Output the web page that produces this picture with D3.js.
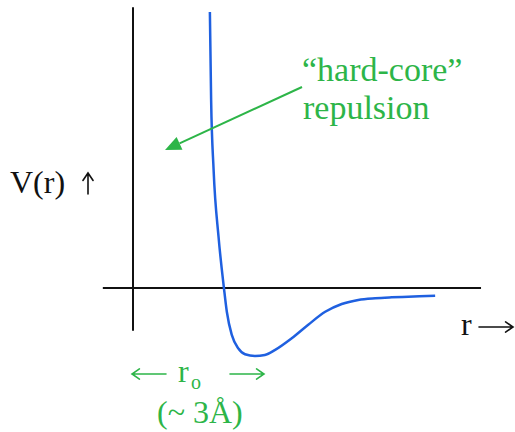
<!DOCTYPE html>
<html>
<head>
<meta charset="utf-8">
<script src="https://d3js.org/d3.v7.min.js"></script>
<style>
  body { margin: 0; background: #fff; }
  text { font-family: "Liberation Serif", "Times New Roman", serif; }
</style>
</head>
<body>
<svg id="chart" width="515" height="432"></svg>
<script>
// potential curve, r in Angstrom, V in units of well depth
const rVals = [1.86, 1.89, 1.95, 2.07, 2.20, 2.27, 2.39, 2.55, 2.71, 2.95, 3.19, 3.44, 3.84, 4.24, 4.65, 5.05, 5.45, 5.86, 6.26, 6.66, 7.31];
const vVals = [4.06, 2.77, 1.74, 0.75, 0, -0.35, -0.69, -0.89, -0.975, -1.0, -0.985, -0.91, -0.74, -0.54, -0.35, -0.235, -0.175, -0.15, -0.137, -0.128, -0.113];

// axis extents (data units)
const rAxisExtent = [-0.73, 8.42];
const vAxisExtent = [-0.63, 4.13];

const annotLines = ["\u201Chard-core\u201D", "repulsion"];
const yLabel = "V(r)";
const xLabel = "r";
const r0Label = "r";
const r0Sub = "o";
const r0Value = "(~ 3\u00C5)";

const green = "#2db548";
const blue = "#1f60e0";
const ink = "#111";

let svg = d3.select("svg#chart");

let xScale = d3.scaleLinear().domain([0, 3]).range([133, 257]);
let yScale = d3.scaleLinear().domain([0, -1]).range([288, 356]);

//axes
svg.append("line")
  .attr("x1", xScale(rAxisExtent[0])).attr("x2", xScale(rAxisExtent[1]))
  .attr("y1", yScale(0)).attr("y2", yScale(0))
  .style("stroke", ink).style("stroke-width", 2);
svg.append("line")
  .attr("x1", xScale(0)).attr("x2", xScale(0))
  .attr("y1", yScale(vAxisExtent[1])).attr("y2", yScale(vAxisExtent[0]))
  .style("stroke", ink).style("stroke-width", 2);

//curve
let pts = rVals.map((r, i) => [r, vVals[i]]);
let line = d3.line()
  .x(d => xScale(d[0]))
  .y(d => yScale(d[1]))
  .curve(d3.curveMonotoneX);
svg.append("path")
  .attr("d", line(pts))
  .style("fill", "none")
  .style("stroke", blue)
  .style("stroke-width", 2.5);

//annotation
svg.append("text").attr("x", 302).attr("y", 81)
  .style("font-size", "34px").style("fill", green).text(annotLines[0]);
svg.append("text").attr("x", 303).attr("y", 119)
  .style("font-size", "34px").style("fill", green).text(annotLines[1]);

//arrow to repulsion region
let ax1 = 302, ay1 = 87, ax2 = 165, ay2 = 150;
let ang = Math.atan2(ay2 - ay1, ax2 - ax1);
let hl = 16, hw = 7;
let bx = ax2 - hl * Math.cos(ang), by = ay2 - hl * Math.sin(ang);
svg.append("line")
  .attr("x1", ax1).attr("y1", ay1).attr("x2", bx).attr("y2", by)
  .style("stroke", green).style("stroke-width", 2);
svg.append("polygon")
  .attr("points", [
    [ax2, ay2],
    [bx + hw * Math.sin(ang), by - hw * Math.cos(ang)],
    [bx - hw * Math.sin(ang), by + hw * Math.cos(ang)]
  ].map(p => p.join(",")).join(" "))
  .style("fill", green);

// thin open arrows like the typeset ones
function textArrow(x1, y1, x2, y2, color) {
  let a = Math.atan2(y2 - y1, x2 - x1);
  let len = 9, spread = 0.6;
  let p1 = [x2 - len * Math.cos(a - spread), y2 - len * Math.sin(a - spread)];
  let p2 = [x2 - len * Math.cos(a + spread), y2 - len * Math.sin(a + spread)];
  svg.append("path")
    .attr("d", "M" + x1 + "," + y1 + "L" + x2 + "," + y2 +
      "M" + p1.join(",") + "L" + x2 + "," + y2 + "L" + p2.join(","))
    .style("fill", "none").style("stroke", color)
    .style("stroke-width", 1.6).style("stroke-linecap", "round");
}

//axis labels
svg.append("text").attr("x", 10).attr("y", 193)
  .style("font-size", "32px").style("fill", ink).text(yLabel);
textArrow(88, 194, 88, 173, ink);
svg.append("text").attr("x", 461).attr("y", 335)
  .style("font-size", "32px").style("fill", ink).text(xLabel);
textArrow(479, 327, 513, 327, ink);

//r0 label
textArrow(166, 374, 132, 374, green);
svg.append("text").attr("x", 178).attr("y", 382)
  .style("font-size", "32px").style("fill", green).text(r0Label);
svg.append("text").attr("x", 191).attr("y", 389)
  .style("font-size", "20px").style("fill", green).text(r0Sub);
textArrow(230, 374, 264, 374, green);
svg.append("text").attr("x", 157).attr("y", 423)
  .style("font-size", "32px").style("fill", green).text(r0Value);
</script>
</body>
</html>
